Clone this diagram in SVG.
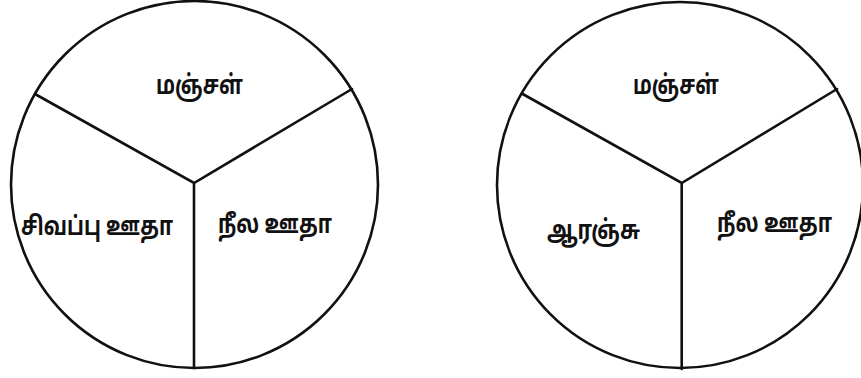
<svg xmlns="http://www.w3.org/2000/svg" width="861" height="378" viewBox="0 0 861 378">
<style>
.c{fill:none;stroke:#111;stroke-width:2.6}
.s{fill:none;stroke:#111;stroke-width:2.6;stroke-linecap:round}
.t{font-family:"Noto Sans Tamil","Noto Sans","Latha","DejaVu Sans",sans-serif;font-size:26px;font-weight:bold;fill:#111;text-anchor:middle}
</style>
<rect width="861" height="378" fill="#fff"/>
<g id="pie-left">
<circle class="c" cx="194.5" cy="184.5" r="183.5"/>
</g>
<g id="pie-right">
<circle class="c" cx="680" cy="185" r="183"/>
</g>
<g id="connectors">
<path class="s" d="M35,94 L194,183 L352,89 M194,183 L194,368"/>
<path class="s" d="M522.7,94 L681.7,183 L837,89 M681.7,183 L681.7,369"/>
</g>
<g id="left-top"><text class="t" x="199.5" y="94" textLength="87" lengthAdjust="spacingAndGlyphs">மஞ்சள்</text></g>
<g id="left-left"><text class="t" x="97" y="235" textLength="152" lengthAdjust="spacingAndGlyphs">சிவப்பு ஊதா</text></g>
<g id="left-right"><text class="t" x="275" y="233" textLength="114" lengthAdjust="spacingAndGlyphs">நீல ஊதா</text></g>
<g id="right-top"><text class="t" x="676" y="94" textLength="86" lengthAdjust="spacingAndGlyphs">மஞ்சள்</text></g>
<g id="right-left"><text class="t" x="593.5" y="239" textLength="93" lengthAdjust="spacingAndGlyphs">ஆரஞ்சு</text></g>
<g id="right-right"><text class="t" x="774.5" y="232" textLength="115" lengthAdjust="spacingAndGlyphs">நீல ஊதா</text></g>
</svg>
